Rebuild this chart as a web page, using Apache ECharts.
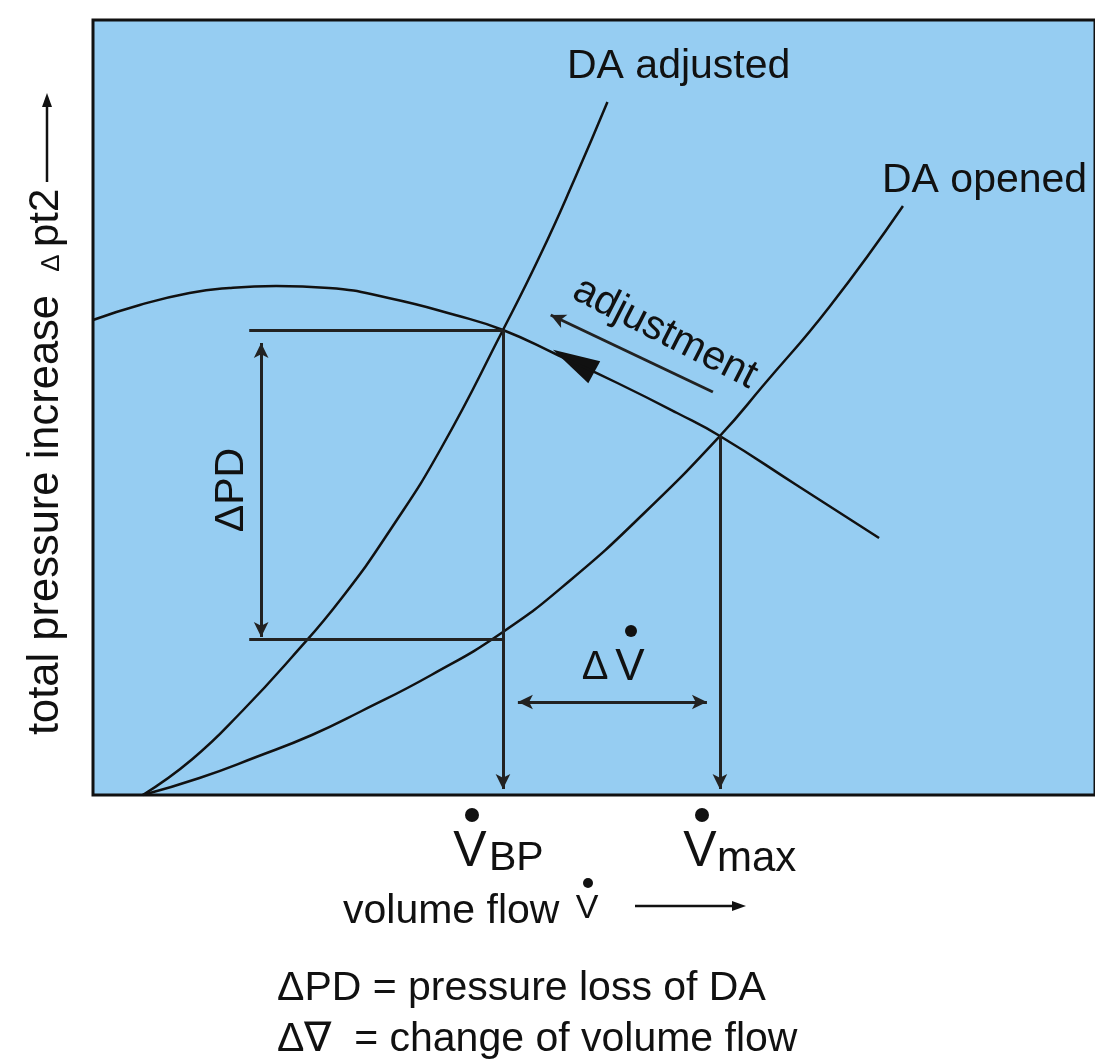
<!DOCTYPE html>
<html><head><meta charset="utf-8">
<script src="https://cdn.jsdelivr.net/npm/echarts@6/dist/echarts.min.js"></script>
<style>html,body{margin:0;padding:0;background:#fff}#c{width:1095px;height:1063px}</style>
</head><body><div id="c"></div>
<script>
// ---- data (arbitrary units: volume flow 0..100.7, pressure 0..77.5) ----
const fanCurve = [[0,47.5],[4.7,49.0],[9.7,50.2],[13.7,50.7],[18.4,50.9],[23.7,50.7],[29.7,49.7],[36.4,48.0],[41.2,46.5],[46.7,44.0],[52.7,41.2],[58.7,38.2],[63.0,35.9],[70.7,31.0],[79.0,25.7]];
const daAdjusted = [[5.0,0],[10.0,3.6],[15.0,8.4],[20.0,13.8],[25.0,19.7],[30.0,26.7],[35.0,34.7],[41.2,46.5],[45.0,54.1],[48.4,61.6],[51.7,69.3]];
const daOpened = [[5.0,0],[10.7,1.7],[16.4,3.8],[22.0,6.0],[27.0,8.4],[34.0,12.0],[41.2,16.3],[48.0,21.5],[55.4,28.2],[63.0,35.9],[67.4,41.0],[74.0,48.8],[81.4,58.9]];
const pointBP = [41.2, 46.5];
const pointMax = [63.0, 35.9];
const lowerLevel = 15.6;       // pressure level of lower construction line
const guideStartX = 15.7;      // where horizontal guide lines start
const dpdArrowX = 16.9;        // ΔPD dimension arrow
const dpdArrowRange = [15.8, 45.2];
const dvArrowY = 9.3;          // ΔV dimension arrow
const dvArrowRange = [42.7, 61.7];
const adjustArrow = [[62.3, 40.3], [46.0, 48.0]];
const curveArrowHead = [[48.3, 43.4]];

const FONT = "'Liberation Sans', Arial, Helvetica, sans-serif";
const INK = '#111';
const chart = echarts.init(document.getElementById('c'));

function seg(a, b, s1, s2) {
  return [{coord: a, symbol: s1}, {coord: b, symbol: s2}];
}
function txt(o) {
  return {
    type: 'text', x: o.x, y: o.y, rotation: o.r || 0, silent: true,
    style: {
      text: o.t, x: 0, y: 0,
      font: (o.fw || 'normal') + ' ' + o.fs + 'px ' + FONT,
      fill: INK,
      textAlign: o.a || 'left', align: o.a || 'left',
      textVerticalAlign: 'middle', verticalAlign: 'middle'
    }
  };
}
function dot(x, y, r) {
  return {type: 'circle', silent: true, shape: {cx: x, cy: y, r: r}, style: {fill: INK}};
}
const curveStyle = {type: 'line', smooth: 0.5, symbol: 'none',
                    lineStyle: {color: INK, width: 2.5}};

chart.setOption({
  animation: false,
  backgroundColor: '#ffffff',
  grid: {left: 93, top: 20, right: -5, bottom: 268, show: true,
         backgroundColor: '#96CDF2', borderColor: INK, borderWidth: 3},
  xAxis: {type: 'value', min: 0, max: 100.7, show: false},
  yAxis: {type: 'value', min: 0, max: 77.5, show: false},
  series: [
    Object.assign({}, curveStyle, {data: fanCurve,
     markLine: {
       silent: true, animation: false,
       symbolSize: [11, 15],
       label: {show: false},
       lineStyle: {color: '#222', width: 3, type: 'solid'},
       data: [
         seg(pointBP, [pointBP[0], 0.6], 'none', 'arrow'),
         seg(pointMax, [pointMax[0], 0.6], 'none', 'arrow'),
         seg([guideStartX, pointBP[1]], pointBP, 'none', 'none'),
         seg([guideStartX, lowerLevel], [pointBP[0], lowerLevel], 'none', 'none'),
         seg([dpdArrowX, dpdArrowRange[0]], [dpdArrowX, dpdArrowRange[1]], 'arrow', 'arrow'),
         seg([dvArrowRange[0], dvArrowY], [dvArrowRange[1], dvArrowY], 'arrow', 'arrow'),
         seg(adjustArrow[0], adjustArrow[1], 'none', 'arrow')
       ]
     }}),
    Object.assign({}, curveStyle, {data: daAdjusted}),
    Object.assign({}, curveStyle, {data: daOpened}),
    {type: 'scatter', data: curveArrowHead, symbol: 'triangle',
     symbolSize: [25, 47], symbolRotate: 61.5, silent: true,
     itemStyle: {color: INK, opacity: 1}}
  ],
  graphic: [
    txt({t: 'DA adjusted', x: 567, y: 67, fs: 41}),
    txt({t: 'DA opened', x: 882, y: 181, fs: 41}),
    txt({t: 'adjustment', x: 665, y: 333, fs: 41, a: 'center', r: -0.471}),
    txt({t: 'ΔPD', x: 232, y: 490, fs: 41, a: 'center', r: Math.PI / 2}),
    txt({t: 'Δ', x: 595, y: 668, fs: 40, a: 'center'}),
    txt({t: 'V', x: 630, y: 668, fs: 44, a: 'center'}),
    dot(631, 631, 6),
    // x tick-like labels
    txt({t: 'V', x: 470, y: 852, fs: 50, a: 'center'}),
    txt({t: 'BP', x: 489, y: 859, fs: 41}),
    dot(472, 815, 7),
    txt({t: 'V', x: 700, y: 852, fs: 50, a: 'center'}),
    txt({t: 'max', x: 717, y: 859, fs: 42}),
    dot(702, 815, 7),
    // x axis title
    txt({t: 'volume flow', x: 343, y: 912, fs: 41}),
    txt({t: 'V', x: 587, y: 909, fs: 34, a: 'center'}),
    dot(588, 883, 5),
    {type: 'line', silent: true, shape: {x1: 635, y1: 906, x2: 733, y2: 906}, style: {stroke: INK, lineWidth: 2.5}},
    {type: 'polygon', silent: true, shape: {points: [[746, 906], [732, 901], [732, 911]]}, style: {fill: INK}},
    // y axis title
    txt({t: 'total pressure increase', x: 46, y: 735, fs: 43.5, r: Math.PI / 2}),
    txt({t: '∆', x: 52, y: 263, fs: 26, a: 'center', r: Math.PI / 2}),
    txt({t: 'pt2', x: 46, y: 247, fs: 42, r: Math.PI / 2}),
    {type: 'line', silent: true, shape: {x1: 47, y1: 182, x2: 47, y2: 106}, style: {stroke: INK, lineWidth: 2.5}},
    {type: 'polygon', silent: true, shape: {points: [[47, 93], [42, 107], [52, 107]]}, style: {fill: INK}},
    // notes
    txt({t: 'ΔPD = pressure loss of DA', x: 277, y: 989, fs: 41}),
    txt({t: 'Δ∇  = change of volume flow', x: 277, y: 1040, fs: 41})
  ]
});
</script>
</body></html>
